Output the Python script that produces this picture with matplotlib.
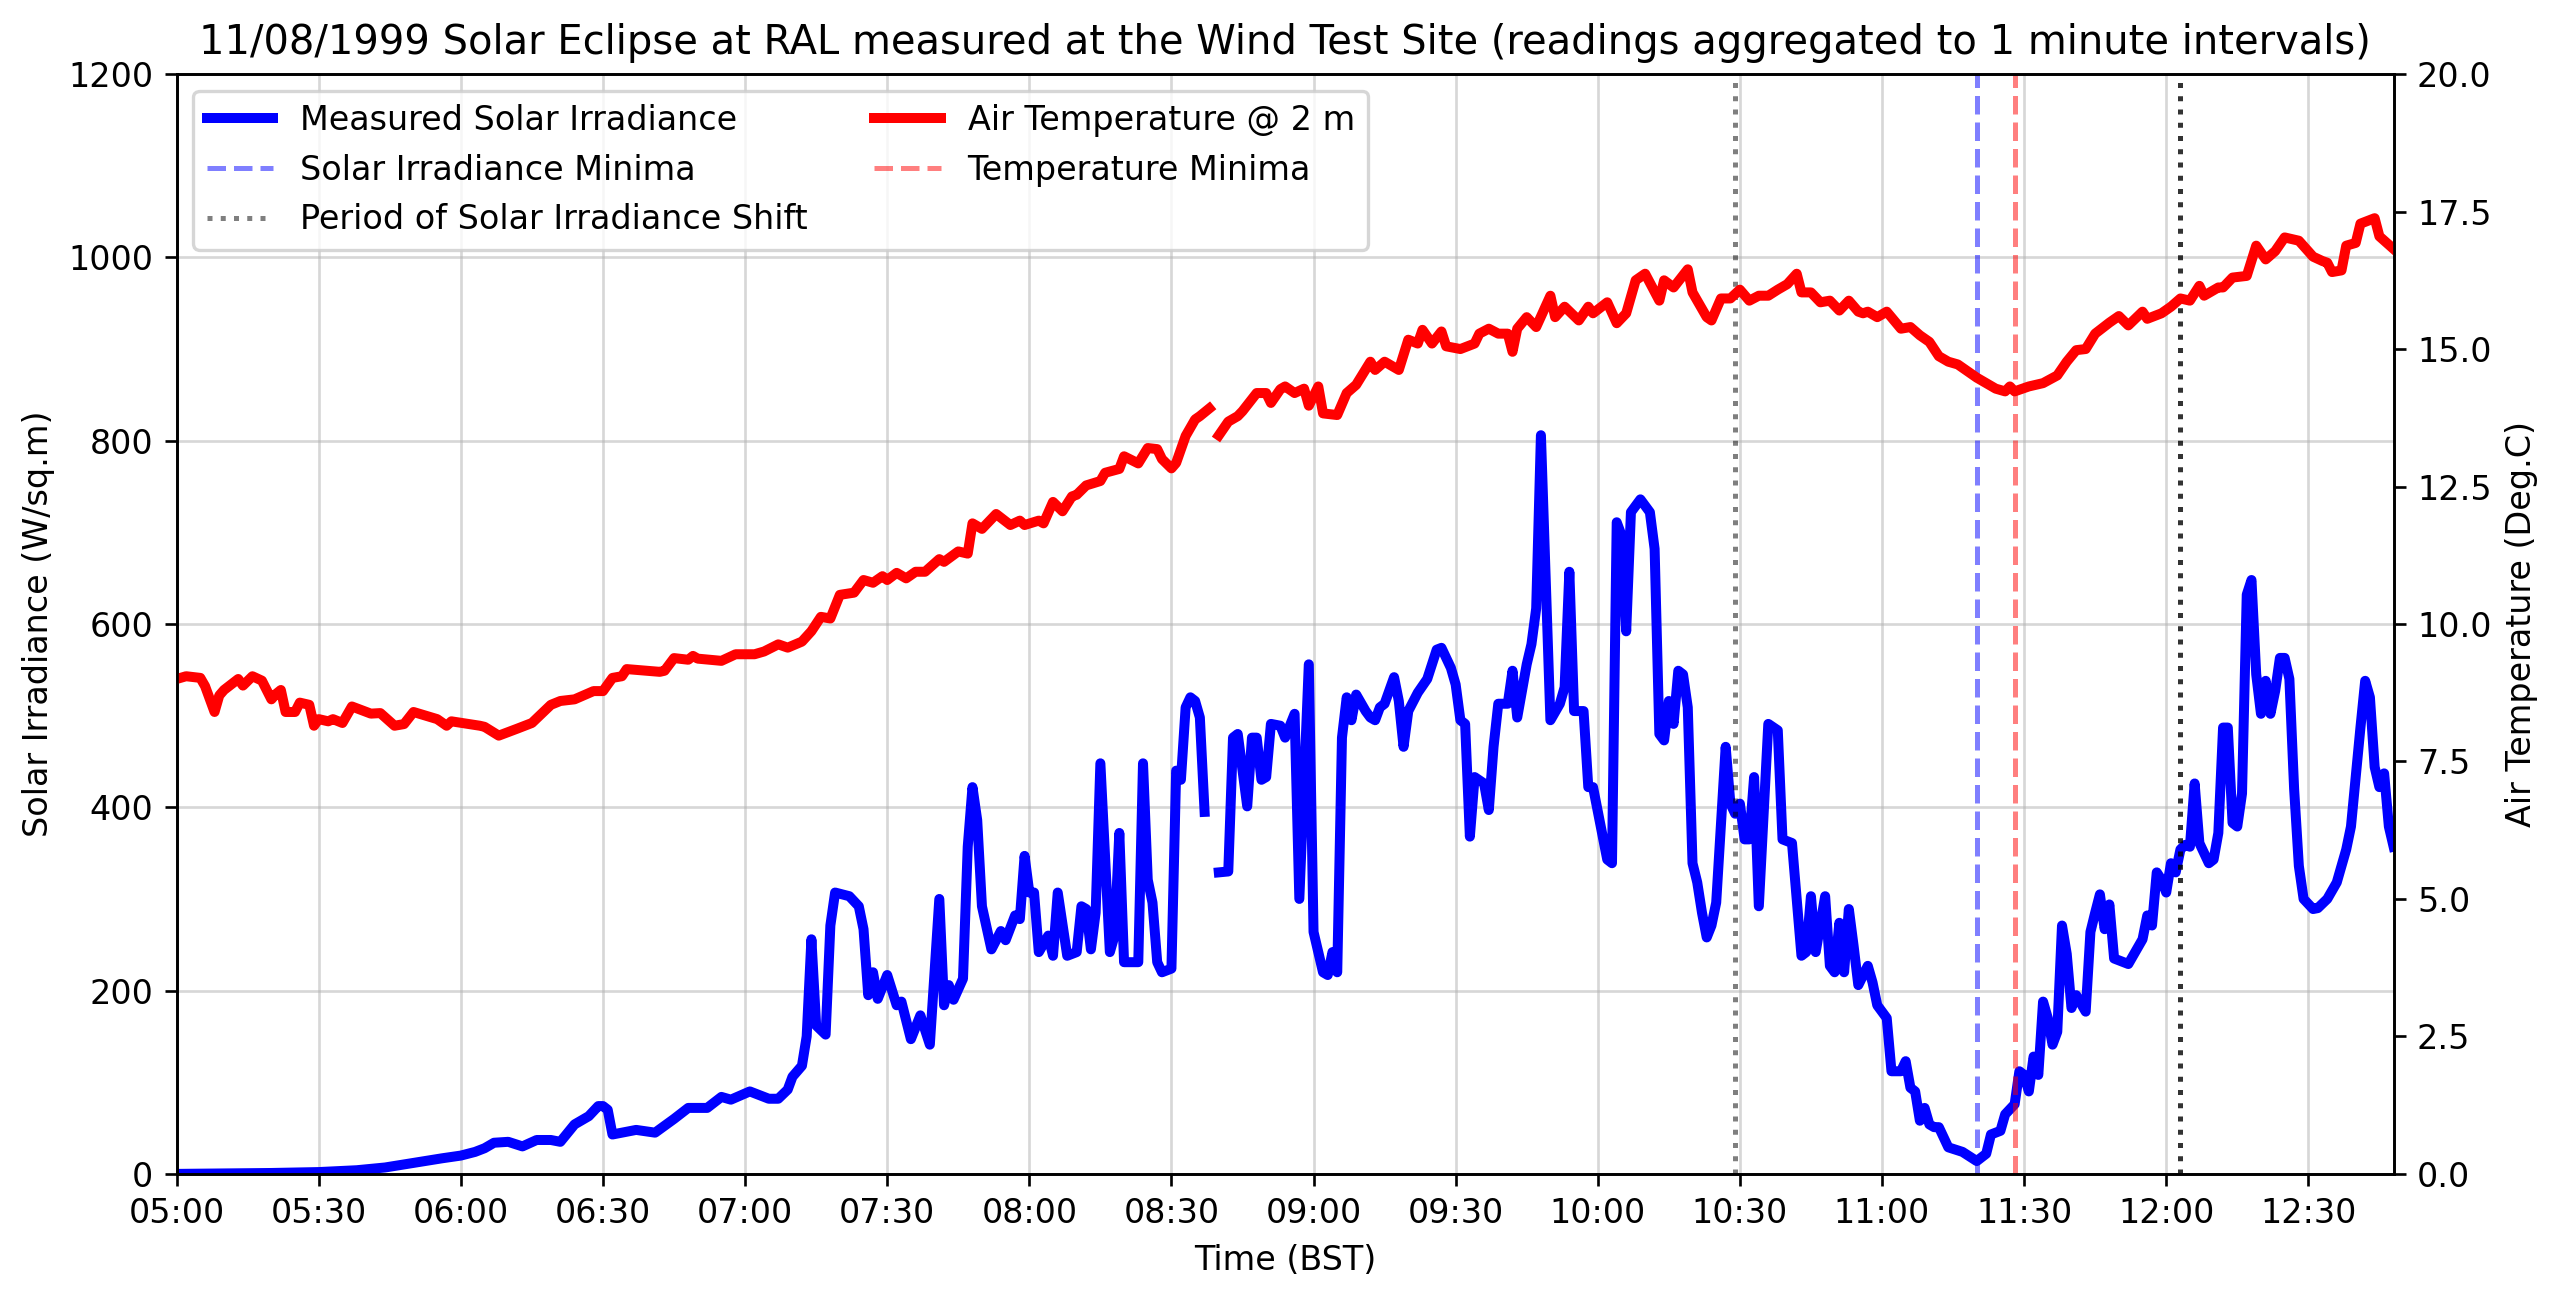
import numpy as np
import pandas as pd
import matplotlib
matplotlib.use("Agg")
import matplotlib.pyplot as plt
import matplotlib.dates as mdates

nan = np.nan
START = "1999-08-11 05:00"

# ---- Solar irradiance (W/sq.m), minutes after 05:00 ----
irr_minutes = [
    0, 10, 20, 30, 38, 44, 50, 56, 60, 63, 65, 67, 70, 73, 76, 79, 81, 84, 85, 87,
    89, 90, 91, 92, 97, 101, 105, 108, 112, 115, 117, 121, 125, 127, 129, 130, 132, 133, 134, 135,
    137, 138, 139, 142, 144, 145, 146, 147, 148, 150, 152, 153, 155, 157, 159, 161, 162, 163, 164, 166,
    167, 168, 169, 170, 172, 174, 175, 177, 178, 179, 180, 181, 182, 184, 185, 186, 188, 190, 191, 192,
    193, 194, 195, 197, 198, 199, 200, 203, 204, 205, 206, 207, 208, 210, 211, 212, 213, 214, 215, 216,
    217, 219, 220, 222, 223, 224, 226, 227, 228, 229, 230, 231, 233, 234, 236, 237, 239, 240, 242, 243,
    244, 245, 246, 247, 248, 249, 251, 252, 253, 254, 255, 257, 258, 259, 260, 262, 264, 266, 267, 269,
    270, 271, 272, 273, 274, 276, 277, 278, 279, 281, 282, 283, 285, 286, 287, 288, 290, 292, 293, 294,
    295, 297, 298, 299, 302, 303, 304, 305, 306, 307, 309, 311, 312, 313, 314, 315, 316, 317, 318, 319,
    320, 321, 322, 323, 324, 325, 327, 328, 329, 330, 331, 332, 333, 334, 336, 338, 339, 341, 343, 344,
    345, 346, 348, 349, 350, 351, 352, 353, 354, 355, 357, 358, 359, 361, 362, 364, 365, 366, 367, 368,
    369, 370, 371, 372, 374, 377, 380, 382, 383, 385, 386, 388, 389, 390, 391, 392, 393, 394, 395, 396,
    397, 398, 399, 400, 401, 403, 404, 405, 406, 407, 408, 409, 412, 413, 415, 416, 417, 418, 419, 420,
    421, 422, 423, 424, 425, 426, 427, 429, 430, 431, 432, 433, 434, 435, 436, 437, 438, 439, 440, 441,
    442, 443, 444, 445, 446, 447, 448, 449, 451, 452, 454, 456, 458, 459, 461, 462, 463, 464, 465, 466,
    467, 468,
]
irr_values = [
    0, 0.5, 1, 2, 4, 7, 12, 17, 20, 24, 28, 34, 35, 30, 37, 37, 35, 54, 57, 63,
    74, 74, 70, 43, 48, 45, 60, 72, 72, 84, 81, 90, 82, 82, 92, 106, 118, 150, 256, 162,
    152, 271, 307, 303, 292, 267, 195, 220, 191, 217, 184, 188, 147, 173, 141, 300, 184, 206, 190, 213,
    357, 422, 386, 292, 245, 265, 255, 282, 278, 347, 307, 307, 242, 260, 238, 307, 238, 242, 292, 289,
    245, 285, 448, 242, 260, 372, 231, 231, 448, 321, 296, 231, 220, 224, 440, 430, 509, 520, 516, 498,
    395, nan, 329, 330, 476, 480, 401, 476, 476, 430, 433, 491, 489, 476, 502, 300, 556, 264, 220, 217,
    242, 220, 476, 520, 495, 523, 505, 498, 495, 509, 513, 542, 516, 466, 505, 525, 540, 572, 574, 552,
    534, 495, 491, 368, 433, 426, 397, 466, 513, 513, 549, 498, 556, 578, 617, 806, 495, 513, 531, 657,
    505, 505, 422, 422, 343, 339, 711, 697, 592, 722, 736, 722, 682, 480, 473, 516, 491, 549, 545, 509,
    339, 318, 285, 258, 271, 296, 466, 404, 393, 404, 365, 365, 433, 292, 491, 484, 365, 361, 238, 242,
    303, 242, 303, 227, 220, 274, 220, 289, 249, 206, 227, 209, 184, 170, 112, 112, 123, 94, 90, 58,
    72, 54, 51, 51, 29, 24, 14, 22, 43, 47, 65, 76, 112, 108, 90, 128, 108, 188, 170, 141,
    155, 271, 240, 181, 195, 177, 264, 285, 305, 267, 294, 235, 229, 238, 256, 282, 271, 329, 321, 307,
    339, 329, 354, 359, 357, 426, 361, 339, 343, 372, 487, 487, 383, 379, 415, 632, 648, 545, 502, 538,
    502, 527, 563, 563, 540, 420, 336, 300, 289, 290, 300, 318, 354, 379, 487, 538, 520, 444, 422, 437,
    379, 357,
]

# ---- Air temperature at 2 m (Deg.C), minutes after 05:00 ----
temp_minutes = [
    0, 2, 5, 6, 8, 9, 10, 13, 14, 16, 18, 20, 21, 22, 23, 25, 26, 28, 29, 30,
    32, 33, 35, 37, 41, 43, 46, 48, 50, 55, 57, 58, 64, 65, 68, 72, 75, 79, 81, 84,
    88, 90, 92, 94, 95, 102, 103, 105, 108, 109, 110, 115, 118, 122, 124, 127, 129, 132, 134, 136,
    138, 140, 143, 145, 147, 149, 150, 152, 154, 156, 158, 161, 162, 165, 167, 168, 170, 173, 176, 178,
    179, 182, 183, 185, 187, 189, 190, 192, 195, 196, 199, 200, 203, 205, 207, 208, 210, 211, 213, 215,
    216, 218, 219, 220, 222, 224, 225, 228, 230, 231, 233, 234, 236, 238, 239, 241, 242, 245, 247, 249,
    252, 253, 255, 258, 260, 262, 263, 265, 267, 268, 271, 274, 275, 277, 279, 281, 282, 283, 285, 287,
    290, 291, 293, 296, 298, 299, 302, 304, 306, 308, 310, 313, 314, 316, 319, 320, 323, 324, 326, 328,
    330, 332, 334, 336, 338, 340, 342, 343, 345, 347, 349, 351, 353, 355, 356, 357, 359, 361, 364, 366,
    368, 370, 372, 374, 376, 378, 380, 381, 384, 386, 387, 388, 391, 394, 397, 399, 401, 403, 405, 408,
    410, 412, 415, 416, 419, 421, 423, 425, 427, 428, 431, 432, 434, 437, 439, 441, 443, 445, 448, 451,
    453, 454, 455, 457, 458, 460, 461, 464, 465, 468,
]
temp_values = [
    9.00, 9.05, 9.02, 8.87, 8.40, 8.70, 8.80, 9.00, 8.88, 9.05, 8.97, 8.63, 8.73, 8.80, 8.40, 8.40, 8.57, 8.53, 8.15, 8.27,
    8.23, 8.27, 8.20, 8.50, 8.37, 8.38, 8.15, 8.18, 8.40, 8.27, 8.15, 8.23, 8.15, 8.13, 7.97, 8.10, 8.20, 8.53, 8.60, 8.63,
    8.78, 8.78, 9.02, 9.05, 9.18, 9.13, 9.15, 9.38, 9.35, 9.42, 9.37, 9.33, 9.45, 9.45, 9.50, 9.63, 9.57, 9.68, 9.87, 10.13,
    10.10, 10.53, 10.57, 10.80, 10.75, 10.87, 10.80, 10.93, 10.83, 10.95, 10.95, 11.18, 11.13, 11.32, 11.28, 11.83, 11.73, 12.00, 11.80, 11.88,
    11.80, 11.88, 11.83, 12.22, 12.05, 12.32, 12.35, 12.52, 12.60, 12.75, 12.82, 13.05, 12.92, 13.20, 13.18, 13.00, 12.83, 12.93, 13.42, 13.72,
    13.78, 13.92, nan, 13.43, 13.68, 13.78, 13.87, 14.20, 14.20, 14.02, 14.27, 14.32, 14.20, 14.28, 13.97, 14.32, 13.83, 13.80, 14.20, 14.35,
    14.77, 14.62, 14.77, 14.62, 15.17, 15.10, 15.35, 15.10, 15.32, 15.05, 15.00, 15.10, 15.28, 15.37, 15.28, 15.28, 14.95, 15.37, 15.58, 15.40,
    15.97, 15.58, 15.77, 15.52, 15.77, 15.65, 15.85, 15.47, 15.65, 16.25, 16.37, 15.88, 16.25, 16.12, 16.45, 16.03, 15.58, 15.52, 15.92, 15.92,
    16.08, 15.88, 15.97, 15.97, 16.08, 16.18, 16.37, 16.03, 16.03, 15.85, 15.88, 15.70, 15.88, 15.68, 15.65, 15.68, 15.58, 15.68, 15.37, 15.40,
    15.25, 15.13, 14.87, 14.77, 14.72, 14.60, 14.48, 14.43, 14.28, 14.23, 14.32, 14.23, 14.32, 14.38, 14.52, 14.77, 14.98, 15.00, 15.28, 15.48,
    15.60, 15.43, 15.68, 15.55, 15.65, 15.77, 15.92, 15.88, 16.15, 15.97, 16.12, 16.12, 16.30, 16.33, 16.88, 16.63, 16.78, 17.03, 16.97, 16.68,
    16.60, 16.57, 16.40, 16.43, 16.88, 16.93, 17.28, 17.38, 17.05, 16.82,
]

# ---- Event markers ----
irr_min_time = "11:20"
temp_min_time = "11:28"
shift_times = ["10:29", "12:03"]
x_end_time = "12:48"

base = pd.Timestamp(START)
def at(hhmm):
    return pd.Timestamp("1999-08-11 " + hhmm)

irr_x = base + pd.to_timedelta(irr_minutes, unit="min")
temp_x = base + pd.to_timedelta(temp_minutes, unit="min")

DPI = 240
fig, ax = plt.subplots(figsize=(2560 / DPI, 1300 / DPI), dpi=DPI)
fig.subplots_adjust(left=0.069, right=0.935, top=0.943, bottom=0.097)
ax2 = ax.twinx()

ax.set_axisbelow(True)
ax.grid(True, color="#b0b0b0", alpha=0.5, linewidth=0.8)

l_irr, = ax.plot(irr_x, irr_values, color="blue", linewidth=3, label="Measured Solar Irradiance")
l_tmp, = ax2.plot(temp_x, temp_values, color="red", linewidth=3, label="Air Temperature @ 2 m")

v_irr = ax.axvline(at(irr_min_time), color="blue", linestyle="--", alpha=0.5, linewidth=1.5,
                   label="Solar Irradiance Minima")
v_tmp = ax.axvline(at(temp_min_time), color="red", linestyle="--", alpha=0.5, linewidth=1.5,
                   label="Temperature Minima")
v_sh1 = ax.axvline(at(shift_times[0]), color="k", linestyle=":", alpha=0.5, linewidth=1.5,
                   label="Period of Solar Irradiance Shift")
ax.axvline(at(shift_times[1]), color="k", linestyle=":", alpha=0.8, linewidth=1.5)

ax.set_ylim(0, 1200)
ax.set_yticks(np.arange(0, 1201, 200))
ax2.set_ylim(0, 20)
ax2.set_yticks(np.arange(0, 20.01, 2.5))
ax.set_xlim(base, at(x_end_time))
ax.xaxis.set_major_locator(mdates.MinuteLocator(byminute=[0, 30]))
ax.xaxis.set_major_formatter(mdates.DateFormatter("%H:%M"))

ax.set_xlabel("Time (BST)")
ax.set_ylabel("Solar Irradiance (W/sq.m)")
ax2.set_ylabel("Air Temperature (Deg.C)")
ax.set_title("11/08/1999 Solar Eclipse at RAL measured at the Wind Test Site "
             "(readings aggregated to 1 minute intervals)", fontsize=12)

handles = [l_irr, v_irr, v_sh1, l_tmp, v_tmp]
ax2.legend(handles, [h.get_label() for h in handles], loc="upper left", ncol=2)

fig.savefig("out.png", dpi=DPI)
